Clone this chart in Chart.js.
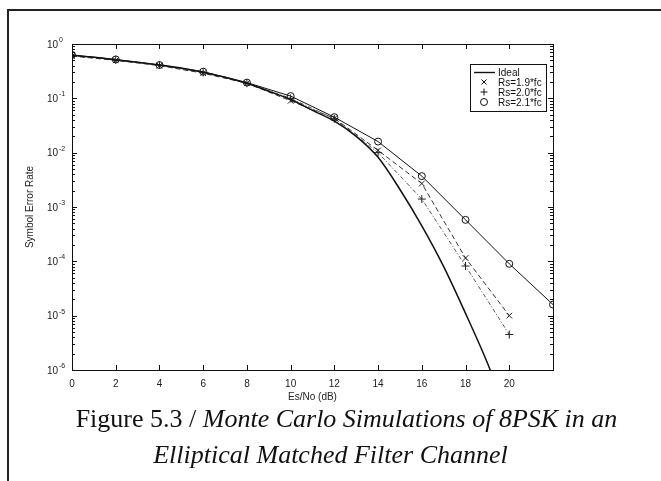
<!DOCTYPE html>
<html>
<head>
<meta charset="utf-8">
<script src="https://cdn.jsdelivr.net/npm/chart.js@4.4.1/dist/chart.umd.min.js"></script>
<style>
  body { margin: 0; background: #fff; }
  #page { position: relative; width: 661px; height: 481px; overflow: hidden; background: #fff; }
  #frameTop { position: absolute; left: 7px; top: 9px; width: 654px; height: 2px; background: #222; }
  #frameLeft { position: absolute; left: 7px; top: 9px; width: 2px; height: 472px; background: #222; }
  #chartBox { position: absolute; left: 0; top: 0; width: 661px; height: 410px; }
  .caption { position: absolute; left: 0; width: 661px; text-align: center;
    font-family: "Liberation Serif", "Times New Roman", serif; font-size: 26px; color: #111; white-space: nowrap; }
  .caption i { font-style: italic; }
</style>
</head>
<body>
<div id="page">
  <div id="frameTop"></div>
  <div id="frameLeft"></div>
  <div id="chartBox"><canvas id="serChart" width="661" height="410"></canvas></div>
  <div class="caption" style="top:404px; left:16px">Figure 5.3 / <i>Monte Carlo Simulations of 8PSK in an</i></div>
  <div class="caption" style="top:440px"><i>Elliptical Matched Filter Channel</i></div>
</div>
<script>
// Es/No points (dB)
const esnoIdeal = [0, 1, 2, 3, 4, 5, 6, 7, 8, 9, 10, 11, 12, 13, 14, 15, 16, 17, 18, 19, 19.5];
const serIdeal = [0.62, 0.57, 0.51, 0.46, 0.41, 0.36, 0.30, 0.245, 0.19, 0.135, 0.095, 0.06, 0.038, 0.02, 0.0082, 0.0021, 0.00045, 0.00008, 0.000011, 0.00000135, 0.0000004];

const esnoSim = [0, 2, 4, 6, 8, 10, 12, 14, 16, 18, 20];
const serRs19 = [0.6, 0.5, 0.4, 0.29, 0.19, 0.09, 0.043, 0.011, 0.0027, 0.000115, 0.00001];
const serRs20 = [0.62, 0.51, 0.41, 0.30, 0.19, 0.10, 0.042, 0.010, 0.0014, 0.000082, 0.0000045];

const esnoRs21 = [0, 2, 4, 6, 8, 10, 12, 14, 16, 18, 20, 22];
const serRs21 = [0.63, 0.52, 0.41, 0.31, 0.195, 0.11, 0.045, 0.016, 0.0037, 0.00058, 0.00009, 0.000016];

const xTickValues = [0, 2, 4, 6, 8, 10, 12, 14, 16, 18, 20, 22];
const yExponents = [0, -1, -2, -3, -4, -5, -6];

const seriesNames = ["Ideal", "Rs=1.9*fc", "Rs=2.0*fc", "Rs=2.1*fc"];

function toPoints(xs, ys) {
    return xs.map((x, i) => ({ x: x, y: ys[i] }));
}

const tickFont = { family: "'Liberation Sans', Arial, sans-serif", size: 10 };

// box, inward ticks, y labels with exponents, legend
const matlabAxes = {
    id: "matlabAxes",
    afterDraw(chart) {
        const ctx = chart.ctx;
        const area = chart.chartArea;
        const xs = chart.scales.x;
        const ys = chart.scales.y;
        ctx.save();
        ctx.strokeStyle = "#111";
        ctx.lineWidth = 1;
        ctx.strokeRect(area.left + 0.5, area.top + 0.5, area.right - area.left, area.bottom - area.top);

        ctx.beginPath();
        xTickValues.forEach(v => {
            const px = Math.round(xs.getPixelForValue(v)) + 0.5;
            ctx.moveTo(px, area.bottom); ctx.lineTo(px, area.bottom - 5);
            ctx.moveTo(px, area.top); ctx.lineTo(px, area.top + 5);
        });
        yExponents.forEach(e => {
            const py = Math.round(ys.getPixelForValue(Math.pow(10, e))) + 0.5;
            ctx.moveTo(area.left, py); ctx.lineTo(area.left + 5, py);
            ctx.moveTo(area.right, py); ctx.lineTo(area.right - 5, py);
            if (e > -6) {
                for (let m = 2; m <= 9; m++) {
                    const pm = Math.round(ys.getPixelForValue(m * Math.pow(10, e - 1))) + 0.5;
                    ctx.moveTo(area.left, pm); ctx.lineTo(area.left + 3, pm);
                    ctx.moveTo(area.right, pm); ctx.lineTo(area.right - 3, pm);
                }
            }
        });
        ctx.stroke();

        // y tick labels 10^e
        ctx.fillStyle = "#222";
        yExponents.forEach(e => {
            const py = ys.getPixelForValue(Math.pow(10, e));
            ctx.font = "10px 'Liberation Sans', Arial, sans-serif";
            ctx.textAlign = "right";
            ctx.textBaseline = "middle";
            ctx.fillText("10", area.left - 14, py + 1);
            ctx.font = "7px 'Liberation Sans', Arial, sans-serif";
            ctx.textAlign = "left";
            ctx.fillText(String(e), area.left - 13, py - 4);
        });

        // legend inside the axes
        const lx = 470, ly = 64, lw = 76, lh = 47;
        ctx.fillStyle = "#fff";
        ctx.fillRect(lx, ly, lw, lh);
        ctx.strokeRect(lx + 0.5, ly + 0.5, lw, lh);
        chart.data.datasets.forEach((ds, i) => {
            const rowY = ly + 8 + i * 10;
            ctx.strokeStyle = "#111";
            ctx.lineWidth = 1;
            if (ds.pointRadius === 0) {
                ctx.beginPath();
                ctx.moveTo(lx + 4, rowY + 0.5); ctx.lineTo(lx + 25, rowY + 0.5);
                ctx.lineWidth = 1.4;
                ctx.stroke();
            } else {
                ctx.fillStyle = "rgba(0,0,0,0)";
                Chart.helpers.drawPoint(ctx, { pointStyle: ds.pointStyle, radius: 3.5, borderWidth: 1, rotation: 0 }, lx + 14, rowY);
            }
            ctx.fillStyle = "#111";
            ctx.font = "10px 'Liberation Sans', Arial, sans-serif";
            ctx.textAlign = "left";
            ctx.textBaseline = "middle";
            ctx.fillText(ds.label, lx + 28, rowY + 1);
        });
        ctx.restore();
    }
};

const ctx = document.getElementById("serChart").getContext("2d");
new Chart(ctx, {
    type: "line",
    data: {
        datasets: [
            {
                label: seriesNames[0],
                data: toPoints(esnoIdeal, serIdeal),
                borderColor: "#111",
                borderWidth: 1.5,
                pointRadius: 0,
                cubicInterpolationMode: "monotone",
                fill: false
            },
            {
                label: seriesNames[1],
                data: toPoints(esnoSim, serRs19),
                borderColor: "#333",
                borderWidth: 1,
                borderDash: [5, 3],
                pointStyle: "crossRot",
                pointRadius: 4,
                pointBorderWidth: 1,
                pointBorderColor: "#222",
                pointBackgroundColor: "rgba(0,0,0,0)",
                fill: false
            },
            {
                label: seriesNames[2],
                data: toPoints(esnoSim, serRs20),
                borderColor: "#555",
                borderWidth: 1,
                borderDash: [4, 2, 1, 2],
                pointStyle: "cross",
                pointRadius: 4,
                pointBorderWidth: 1,
                pointBorderColor: "#222",
                pointBackgroundColor: "rgba(0,0,0,0)",
                fill: false
            },
            {
                label: seriesNames[3],
                data: toPoints(esnoRs21, serRs21),
                borderColor: "#111",
                borderWidth: 1,
                pointStyle: "circle",
                pointRadius: 3.5,
                pointBorderWidth: 1,
                pointBorderColor: "#111",
                pointBackgroundColor: "rgba(0,0,0,0)",
                fill: false
            }
        ]
    },
    options: {
        responsive: false,
        animation: false,
        events: [],
        layout: { padding: { left: 20, right: 108, top: 44, bottom: 4 } },
        plugins: { legend: { display: false }, tooltip: { enabled: false } },
        scales: {
            x: {
                type: "linear",
                min: 0,
                max: 22,
                afterFit: s => { s.height = 36; },
                grid: { display: false, drawTicks: false },
                border: { display: false },
                ticks: {
                    stepSize: 2,
                    padding: 8,
                    color: "#222",
                    font: tickFont,
                    maxRotation: 0,
                    callback: v => (v <= 20 ? String(v) : "")
                },
                title: { display: true, text: "Es/No (dB)", color: "#222", font: tickFont, padding: { top: 2, bottom: 3 } }
            },
            y: {
                type: "logarithmic",
                min: 0.000001,
                max: 1,
                afterFit: s => { s.width = 52; },
                grid: { display: false, drawTicks: false },
                border: { display: false },
                ticks: { display: false },
                title: { display: true, text: "Symbol Error Rate", color: "#222", font: tickFont, padding: 4 }
            }
        }
    },
    plugins: [matlabAxes]
});
</script>
</body>
</html>
